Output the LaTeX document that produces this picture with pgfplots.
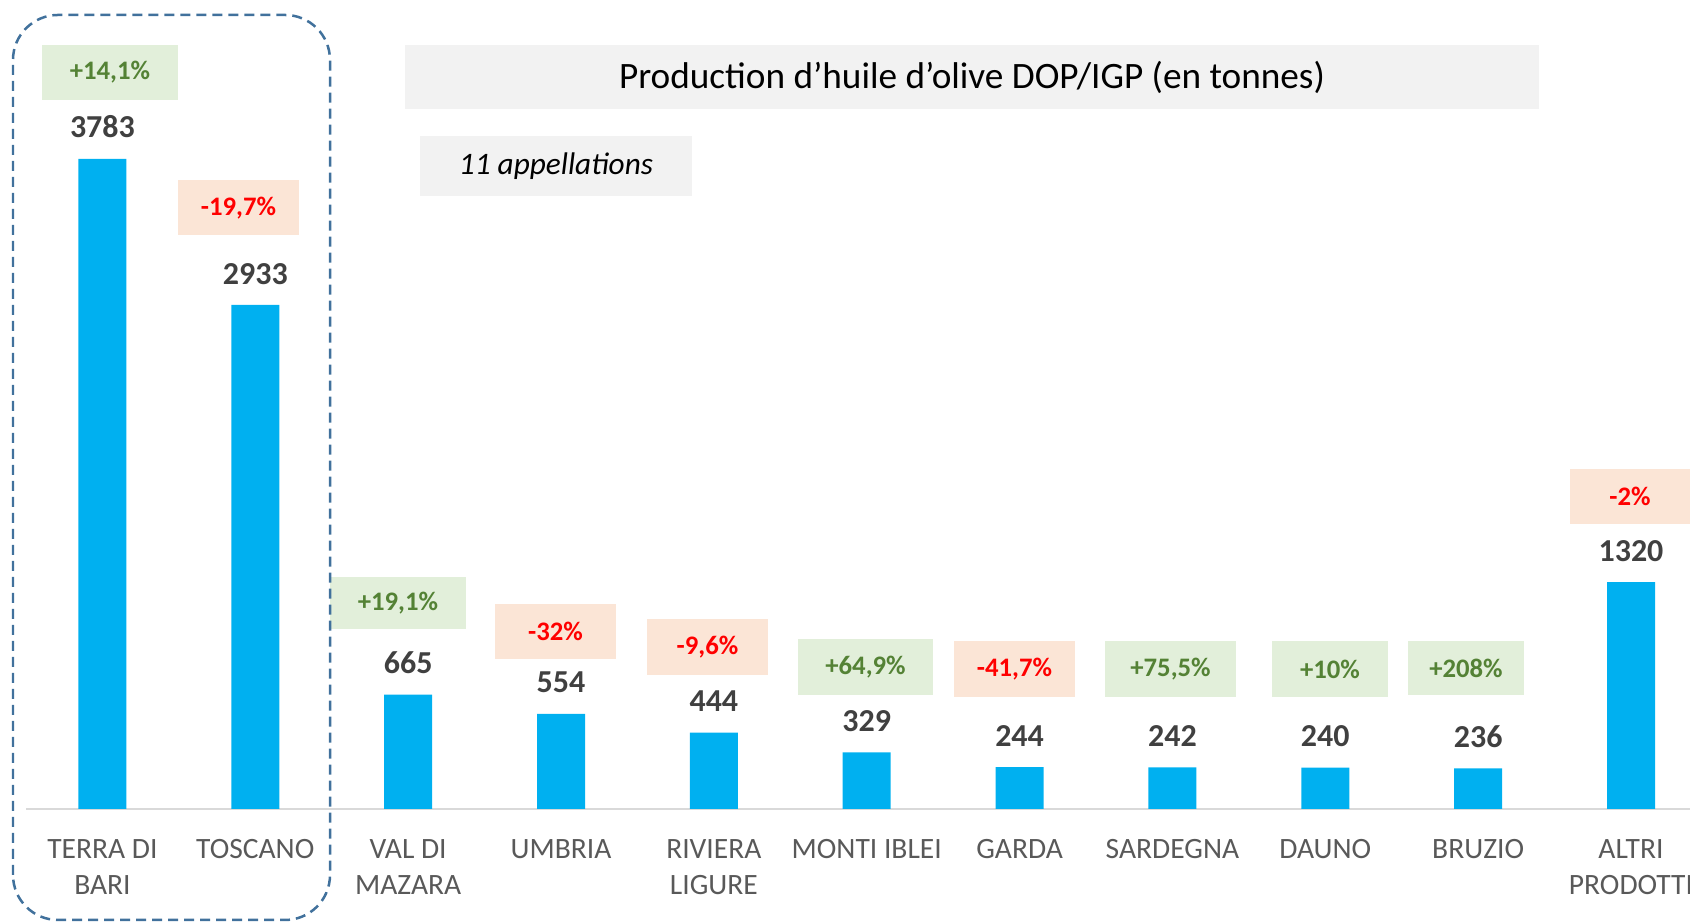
\documentclass[border=0pt]{standalone}
\usepackage{pgfplots}
\pgfplotsset{compat=1.18}
\usepackage{fontspec}
\setmainfont{Carlito}
\definecolor{barblue}{HTML}{00B0F0}
\definecolor{greenbg}{HTML}{E2EFDA}
\definecolor{greentx}{HTML}{548235}
\definecolor{redbg}{HTML}{FBE5D6}
\definecolor{redtx}{HTML}{FF0000}
\definecolor{titlebg}{HTML}{F2F2F2}
\definecolor{labgray}{HTML}{595959}
\definecolor{valgray}{HTML}{404040}
\definecolor{axisgray}{HTML}{D9D9D9}
\definecolor{dashblue}{HTML}{41719C}
\begin{document}
\begin{tikzpicture}
\useasboundingbox (0mm,0mm) rectangle (169mm,92.2mm);
\clip (0mm,0mm) rectangle (169mm,92.2mm);
% title boxes
\node[fill=titlebg, minimum width=113.4mm, minimum height=6.4mm, inner sep=0pt,
      font=\fontsize{10.6}{12}\selectfont] at (97.2mm,84.5mm)
      {Production d’huile d’olive DOP/IGP (en tonnes)};
\node[fill=titlebg, minimum width=27.2mm, minimum height=6.0mm, inner sep=0pt,
      font=\fontsize{8.9}{10.5}\selectfont\itshape] at (55.6mm,75.6mm)
      {11 appellations};
\begin{axis}[
  at={(2.6mm,11.3mm)}, anchor=south west,
  scale only axis, width=166.4mm, height=80.9mm,
  xmin=-0.5, xmax=10.386, ymin=0, ymax=4708,
  axis x line*=bottom, axis y line=none,
  x axis line style={draw=axisgray, line width=0.15mm, -},
  xtick=data, major tick length=0pt, xtick style={draw=none},
  ytick=\empty,
  xticklabels={{TERRA DI\\BARI},TOSCANO,{VAL DI\\MAZARA},UMBRIA,{RIVIERA\\LIGURE},MONTI IBLEI,GARDA,SARDEGNA,DAUNO,BRUZIO,{ALTRI\\PRODOTTI}},
  xticklabel style={align=center, anchor=north, inner sep=0pt, yshift=-3.0mm,
      text=labgray, font=\fontsize{8.4}{10.2}\selectfont},
  ybar, bar width=4.8mm,
  /pgf/number format/1000 sep={},
  /pgf/number format/assume math mode=true,
  nodes near coords,
  every node near coord/.append style={inner sep=0pt, yshift=2mm,
      text=valgray, font=\fontsize{9.1}{11}\selectfont\bfseries},
  clip=false,
]
\addplot[fill=barblue, draw=none] coordinates {
  (0,3783) (1,2933) (2,665) (3,554) (4,444) (5,329)
  (6,244) (7,242) (8,240) (9,236) (10,1320)
};
\end{axis}
% percent change boxes
\tikzset{pbox/.style={inner sep=0pt, minimum height=5.5mm,
   font=\fontsize{7.6}{9}\selectfont\bfseries},
   gbox/.style={pbox, fill=greenbg, text=greentx},
   rbox/.style={pbox, fill=redbg, text=redtx}}
\node[gbox, minimum width=13.6mm] at (11.0mm,84.95mm) {+14,1\%};
\node[rbox, minimum width=12.1mm] at (23.85mm,71.4mm) {-19,7\%};
\node[gbox, minimum width=13.6mm, minimum height=5.2mm] at (39.8mm,31.9mm) {+19,1\%};
\node[rbox, minimum width=12.1mm] at (55.55mm,29.05mm) {-32\%};
\node[rbox, minimum width=12.1mm, minimum height=5.6mm] at (70.75mm,27.5mm) {-9,6\%};
\node[gbox, minimum width=13.5mm, minimum height=5.6mm] at (86.55mm,25.5mm) {+64,9\%};
\node[rbox, minimum width=12.1mm, minimum height=5.6mm] at (101.45mm,25.3mm) {-41,7\%};
\node[gbox, minimum width=13.1mm, minimum height=5.6mm] at (117.05mm,25.3mm) {+75,5\%};
\node[gbox, minimum width=11.6mm, minimum height=5.6mm] at (133.0mm,25.3mm) {+10\%};
\node[gbox, minimum width=11.6mm, minimum height=5.4mm] at (146.6mm,25.4mm) {+208\%};
\node[rbox, minimum width=12.1mm] at (163.0mm,42.55mm) {-2\%};
% dashed frame
\draw[dashblue, line width=0.25mm, dash pattern=on 1mm off 0.6mm, rounded corners=4.5mm]
  (1.3mm,0.2mm) rectangle (33.0mm,90.7mm);
\end{tikzpicture}
\end{document}
